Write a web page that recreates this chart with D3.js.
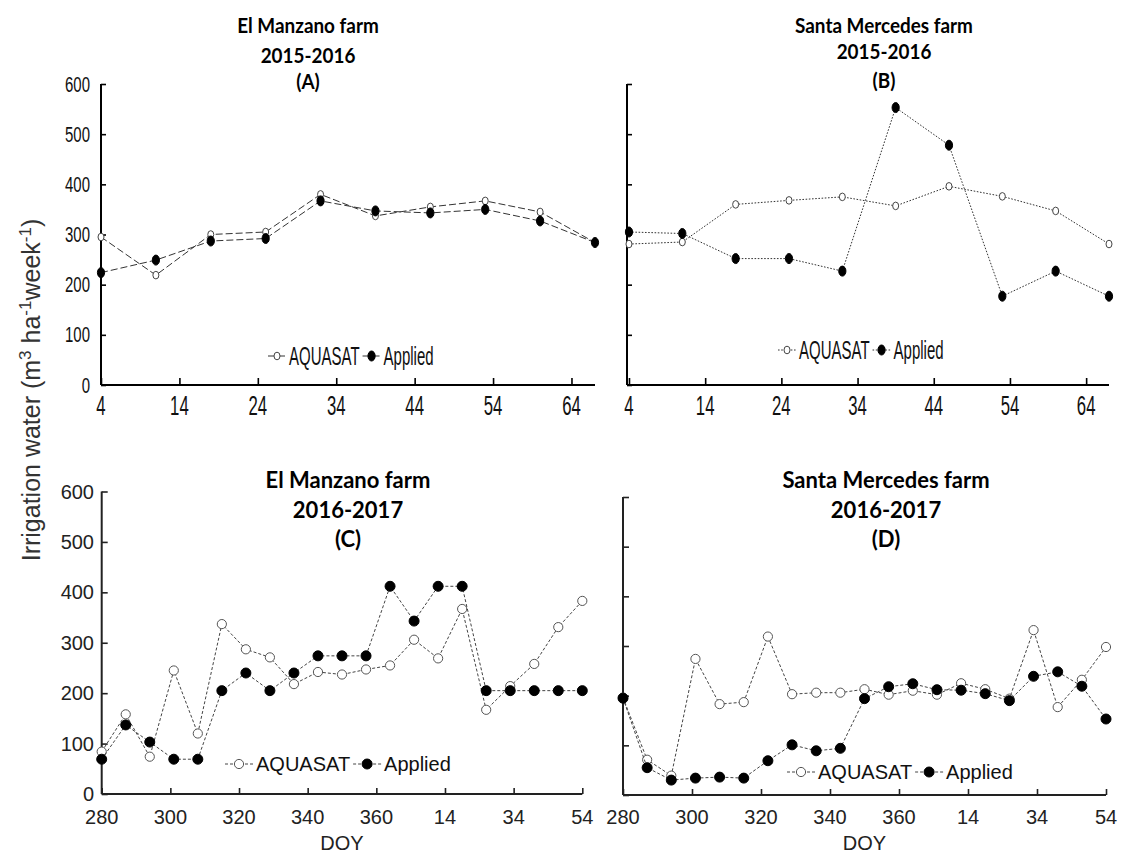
<!DOCTYPE html>
<html>
<head>
<meta charset="utf-8">
<script src="https://cdn.jsdelivr.net/npm/d3@7"></script>
<style>
  html, body { margin: 0; padding: 0; background: #fff; }
  svg { display: block; }
</style>
</head>
<body>
<svg id="chart" width="1131" height="855"></svg>
<script>
// ---------------- DATA ----------------
const doyTop = [4, 11, 18, 25, 32, 39, 46, 53, 60, 67];
const aquasatA = [295, 219, 300, 305, 380, 337, 355, 367, 345, 284];
const appliedA = [224, 249, 287, 292, 367, 347, 343, 350, 327, 284];
const aquasatB = [281, 285, 360, 368, 375, 357, 396, 376, 347, 281];
const appliedB = [305, 302, 252, 252, 227, 553, 478, 177, 227, 177];

const doyBottom = [280, 287, 294, 301, 308, 315, 322, 329, 336, 343, 350,
                   357, 364, 371, 378, 385, 392, 399, 406, 413, 420];
const aquasatC = [84, 158, 74, 245, 120, 337, 287, 271, 218, 242, 237,
                  247, 255, 306, 269, 367, 167, 214, 258, 331, 383];
const appliedC = [69, 137, 103, 69, 69, 205, 240, 205, 240, 274, 274,
                  274, 412, 343, 412, 412, 205, 205, 205, 205, 205];
const aquasatD = [196, 71, 39, 274, 183, 187, 319, 203, 206, 206, 213,
                  202, 210, 202, 225, 213, 194, 332, 177, 232, 298];
const appliedD = [195, 55, 30, 34, 36, 34, 69, 101, 89, 94, 194,
                  218, 224, 212, 211, 204, 190, 239, 248, 219, 153];

const yTicks = [0, 100, 200, 300, 400, 500, 600];
const topXTicks = [4, 14, 24, 34, 44, 54, 64];
const bottomXTicks = [280, 300, 320, 340, 360, 380, 400, 420];
const bottomXTickLabels = ["280", "300", "320", "340", "360", "14", "34", "54"];
const seriesNames = ["AQUASAT", "Applied"];
const titles = {
  A: ["El Manzano farm", "2015-2016", "(A)"],
  B: ["Santa Mercedes farm", "2015-2016", "(B)"],
  C: ["El Manzano farm", "2016-2017", "(C)"],
  D: ["Santa Mercedes farm", "2016-2017", "(D)"]
};

// ---------------- LAYOUT ----------------
const svg = d3.select("#chart");
const SANS = "'Liberation Sans', Arial, Helvetica, sans-serif";
const TITLEF = "Lato, 'Open Sans', sans-serif";

// text helper with horizontal condensation
function txt(parent, x, y, s, o) {
  o = o || {};
  const g = parent.append("g")
    .attr("transform", `translate(${x},${y}) scale(${o.k || 1},1)`);
  const t = g.append("text")
    .attr("x", 0).attr("y", 0)
    .attr("text-anchor", o.anchor || "middle")
    .attr("dominant-baseline", "central")
    .style("font-family", o.font || SANS)
    .style("font-size", (o.size || 16) + "px")
    .style("font-weight", o.weight || "normal")
    .attr("fill", o.fill || "#111")
    .text(s);
  return t;
}

const panels = [
  { id: "A", top: true, x: d3.scaleLinear().domain([4, 67]).range([101, 595]),
    y: d3.scaleLinear().domain([0, 600]).range([385, 84]),
    doy: doyTop, aq: aquasatA, ap: appliedA, yLabels: true,
    dash: "7,3", titleX: 308, titleY: [25, 55, 81], titleK: 0.9,
    legend: { y: 356, x0: 268 } },
  { id: "B", top: true, x: d3.scaleLinear().domain([3.74, 67]).range([627, 1109]),
    y: d3.scaleLinear().domain([0, 600]).range([385, 84]),
    doy: doyTop, aq: aquasatB, ap: appliedB, yLabels: false,
    dash: "1.6,1.6", titleX: 884, titleY: [25, 51, 80], titleK: 0.9,
    legend: { y: 350, x0: 778 } },
  { id: "C", top: false, x: d3.scaleLinear().domain([280, 420]).range([101.7, 582.3]),
    y: d3.scaleLinear().domain([0, 600]).range([794, 491.5]),
    doy: doyBottom, aq: aquasatC, ap: appliedC, yLabels: true,
    dash: "3,2", titleX: 348, titleY: [479, 509, 538], titleK: 1,
    legend: { y: 764, x0: 225 } },
  { id: "D", top: false, x: d3.scaleLinear().domain([280, 420]).range([623, 1106]),
    y: d3.scaleLinear().domain([0, 600]).range([795, 497]),
    doy: doyBottom, aq: aquasatD, ap: appliedD, yLabels: false,
    dash: "3,2", titleX: 886, titleY: [479, 509, 538], titleK: 1,
    legend: { y: 772, x0: 787 } }
];

panels.forEach(p => {
  const g = svg.append("g").attr("class", "panel-" + p.id);
  const [x0, x1] = p.x.range();
  const [yb, yt] = p.y.range();

  // titles
  const tsize = p.top ? 21 : 22;
  titles[p.id].forEach((s, i) => {
    txt(g, p.titleX, p.titleY[i], s, { font: TITLEF, size: tsize, weight: "bold", k: p.titleK, fill: "#000" });
  });

  // axes (ticks inward)
  const axW = 2;
  const axCol = p.top ? "#000" : "#222";
  const xAxis = d3.axisTop(p.x)
    .tickValues(p.top ? topXTicks : bottomXTicks)
    .tickSize(p.top ? 7 : 6).tickFormat("");
  const gx = g.append("g").attr("transform", `translate(0,${yb})`).call(xAxis);
  gx.select(".domain").attr("d", `M${x0},0H${x1}`).attr("stroke", axCol).attr("stroke-width", axW);
  gx.selectAll(".tick line").attr("stroke", axCol).attr("stroke-width", 1.6);
  const yAxis = d3.axisRight(p.y).tickValues(yTicks).tickSize(p.top ? 5 : 6).tickFormat("");
  const gy = g.append("g").attr("transform", `translate(${x0},0)`).call(yAxis);
  gy.select(".domain").attr("d", `M0,${yb}V${yt}`).attr("stroke", axCol).attr("stroke-width", axW);
  gy.selectAll(".tick line").attr("stroke", axCol).attr("stroke-width", 1.6);

  // tick labels
  if (p.top) {
    topXTicks.forEach(v => txt(g, p.x(v), 406, String(v), { size: 27, k: 0.62, fill: "#111" }));
    if (p.yLabels) yTicks.forEach(v => txt(g, 90, p.y(v), String(v), { size: 22, k: 0.68, anchor: "end", fill: "#111" }));
  } else {
    bottomXTicks.forEach((v, i) => txt(g, p.x(v), 817, bottomXTickLabels[i], { size: 20, fill: "#222" }));
    if (p.yLabels) yTicks.forEach(v => txt(g, 94, p.y(v), String(v), { size: 20, anchor: "end", fill: "#222" }));
    txt(g, (x0 + x1) / 2, 843, "DOY", { size: 20, fill: "#222" });
  }

  // series
  const lineCol = p.top ? "#333" : "#444";
  const line = d3.line().x(d => p.x(d[0])).y(d => p.y(d[1]));
  const drawSeries = (vals, filled) => {
    const pts = p.doy.map((d, i) => [d, vals[i]]);
    g.append("path").datum(pts).attr("d", line)
      .attr("fill", "none").attr("stroke", lineCol).attr("stroke-width", 1)
      .attr("stroke-dasharray", p.dash);
    const m = g.append("g");
    if (p.top) {
      m.selectAll("ellipse").data(pts).join("ellipse")
        .attr("cx", d => p.x(d[0])).attr("cy", d => p.y(d[1]))
        .attr("rx", filled ? 3.6 : 3).attr("ry", filled ? 5 : 3.8)
        .attr("fill", filled ? "#000" : "#fff")
        .attr("stroke", filled ? "#000" : "#444").attr("stroke-width", 1);
    } else {
      m.selectAll("circle").data(pts).join("circle")
        .attr("cx", d => p.x(d[0])).attr("cy", d => p.y(d[1]))
        .attr("r", filled ? 5 : 4.6)
        .attr("fill", filled ? "#000" : "#fff")
        .attr("stroke", filled ? "#000" : "#555").attr("stroke-width", 1);
    }
  };
  drawSeries(p.aq, false);
  drawSeries(p.ap, true);

  // legend
  const L = p.legend;
  const lg = g.append("g");
  const segLen = p.top ? 18 : 28;
  const legFont = p.top ? { size: 25, k: 0.6 } : { size: 20, k: 1 };
  let cx = L.x0;
  seriesNames.forEach((name, i) => {
    const filled = i === 1;
    lg.append("line").attr("x1", cx).attr("x2", cx + segLen).attr("y1", L.y).attr("y2", L.y)
      .attr("stroke", lineCol).attr("stroke-width", 1).attr("stroke-dasharray", p.dash);
    const mx = cx + segLen / 2;
    if (p.top) {
      lg.append("ellipse").attr("cx", mx).attr("cy", L.y)
        .attr("rx", filled ? 3.6 : 3).attr("ry", filled ? 5 : 3.8)
        .attr("fill", filled ? "#000" : "#fff").attr("stroke", filled ? "#000" : "#444");
    } else {
      lg.append("circle").attr("cx", mx).attr("cy", L.y).attr("r", filled ? 5 : 4.6)
        .attr("fill", filled ? "#000" : "#fff").attr("stroke", filled ? "#000" : "#555");
    }
    const t = txt(lg, cx + segLen + 3, L.y, name, { size: legFont.size, k: legFont.k, anchor: "start", fill: "#111" });
    const w = t.node().getComputedTextLength() * legFont.k;
    cx = cx + segLen + 3 + w + 3;
  });
});

// y-axis title
const yt = svg.append("text")
  .attr("transform", "translate(40,390) rotate(-90)")
  .attr("text-anchor", "middle")
  .style("font-family", SANS)
  .style("font-size", "25px")
  .attr("fill", "#333");
yt.append("tspan").text("Irrigation water (m");
yt.append("tspan").attr("dy", -9).style("font-size", "17px").text("3");
yt.append("tspan").attr("dy", 9).text(" ha");
yt.append("tspan").attr("dy", -9).style("font-size", "17px").text("-1");
yt.append("tspan").attr("dy", 9).text("week");
yt.append("tspan").attr("dy", -9).style("font-size", "17px").text("-1");
yt.append("tspan").attr("dy", 9).text(")");
</script>
</body>
</html>
